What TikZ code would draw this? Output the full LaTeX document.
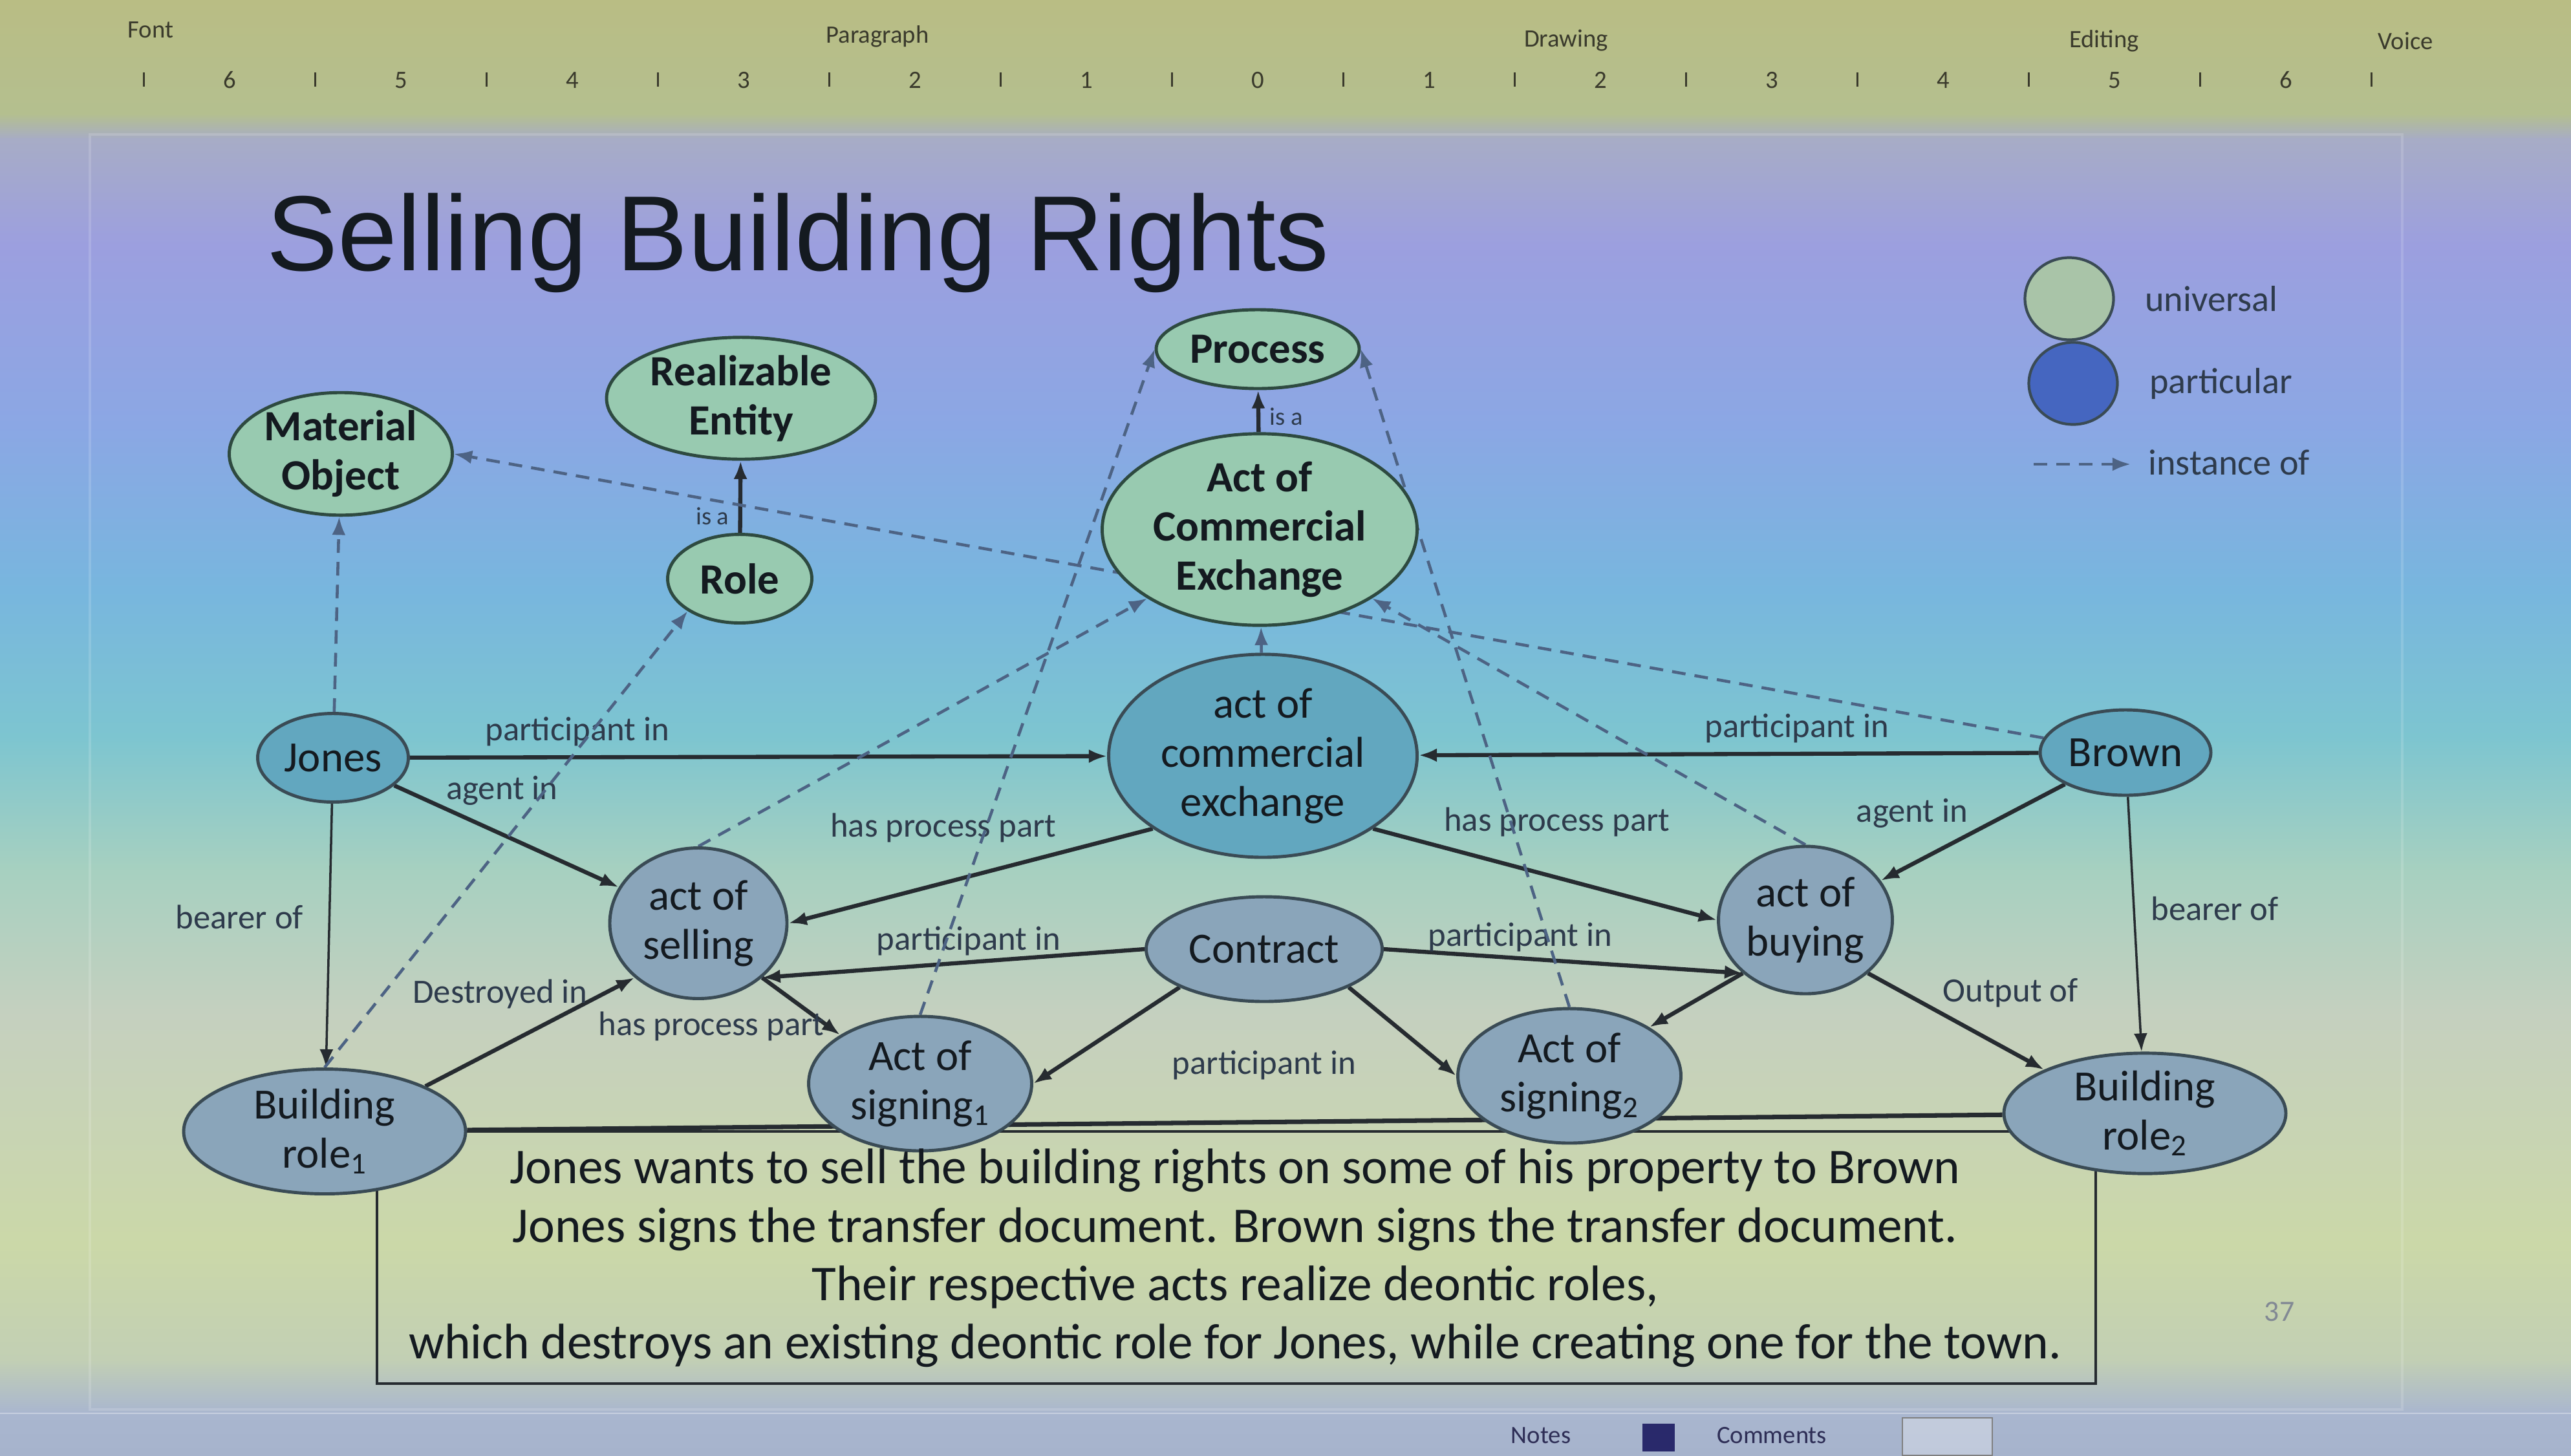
\documentclass[tikz,border=0pt]{standalone}
\usepackage{fontspec}
\setmainfont{Carlito}
\newfontfamily\titlefont{Liberation Sans}
\usepackage{tikz}
\usetikzlibrary{positioning,arrows.meta,shapes.geometric}
\pgfdeclarelayer{backdrop}
\pgfdeclarelayer{links}
\pgfsetlayers{backdrop,links,main}

\definecolor{univfill}{HTML}{98CAB0}
\definecolor{univline}{HTML}{2E4A40}
\definecolor{partup}{HTML}{62A7BF}
\definecolor{partlow}{HTML}{8AA5BA}
\definecolor{partline}{HTML}{3A4B55}
\definecolor{relline}{HTML}{262B30}
\definecolor{instline}{HTML}{4D6384}
\definecolor{lbltext}{HTML}{2E3B4C}
\definecolor{nodetext}{HTML}{141A20}
\definecolor{legpart}{HTML}{4566C0}
\definecolor{leguniv}{HTML}{A9C4A8}
\definecolor{uitext}{HTML}{3A3A2C}
% photo background bands, top to bottom
\definecolor{bgA}{HTML}{B9BD84}
\definecolor{bgB}{HTML}{B4BF8F}
\definecolor{bgC}{HTML}{A7ACC6}
\definecolor{bgD}{HTML}{9C9FDF}
\definecolor{bgE}{HTML}{8BA7E4}
\definecolor{bgF}{HTML}{78B6DE}
\definecolor{bgG}{HTML}{7DC5D0}
\definecolor{bgH}{HTML}{A6D0C0}
\definecolor{bgI}{HTML}{C5D0BF}
\definecolor{bgJ}{HTML}{CBD8A8}
\definecolor{bgK}{HTML}{C2CFB4}
\definecolor{bgL}{HTML}{A9B6CF}
\definecolor{bgM}{HTML}{A6B3CC}

\tikzset{
  univ/.style={ellipse, draw=univline, line width=1.4pt, fill=univfill, inner sep=0pt, align=center,
    font=\fontsize{19}{21.6}\selectfont\bfseries, text=nodetext},
  part/.style={ellipse, draw=partline, line width=1.4pt, fill=partlow, inner sep=0pt, align=center,
    font=\fontsize{19}{21.6}\selectfont, text=nodetext},
  rel/.style={-{Latex[length=8pt,width=6pt]}, line width=1.8pt, draw=relline},
  inst/.style={-{Latex[length=8pt,width=6pt]}, line width=1.3pt, draw=instline, dash pattern=on 6pt off 4pt},
  lbl/.style={font=\fontsize{15}{17}\selectfont, text=lbltext, inner sep=1pt},
  isalbl/.style={font=\fontsize{11}{13}\selectfont, text=lbltext, inner sep=1pt},
  legtext/.style={font=\fontsize{16}{18}\selectfont, text=lbltext, anchor=west},
  uilbl/.style={font=\fontsize{11}{13}\selectfont, text=uitext}
}

\begin{document}
\begin{tikzpicture}
\useasboundingbox (0,0) rectangle (39.76,-22.51);

% photographed background
\begin{pgfonlayer}{backdrop}
\foreach \ya/\yb/\ca/\cb in {0/1.78/bgA/bgB, 1.78/2.16/bgB/bgC, 2.16/3.80/bgC/bgD, 3.80/6.59/bgD/bgE,
    6.59/9.13/bgE/bgF, 9.13/11.41/bgF/bgG, 11.41/13.44/bgG/bgH, 13.44/15.72/bgH/bgI,
    15.72/19.27/bgI/bgJ, 19.27/21.05/bgJ/bgK, 21.05/21.86/bgK/bgL, 21.86/22.51/bgL/bgM}
  \shade[top color=\ca, bottom color=\cb] (0,{-\ya+0.02}) rectangle (39.76,-\yb);
\draw[white, opacity=.15, line width=1pt] (1.39,-2.08) rectangle (37.15,-21.80);
\end{pgfonlayer}

% ruler and ribbon group names
\node[uilbl] (rFont) at (2.33,-0.46) {Font};
\node[uilbl] (rPara) at (13.57,-0.56) {Paragraph};
\node[uilbl] (rDraw) at (24.22,-0.63) {Drawing};
\node[uilbl] (rEdit) at (32.54,-0.63) {Editing};
\node[uilbl] (rVoice) at (37.20,-0.63) {Voice};
\foreach \k/\n in {-6/6,-5/5,-4/4,-3/3,-2/2,-1/1,0/0,1/1,2/2,3/3,4/4,5/5,6/6}
  \node[uilbl] at ({19.45+2.65*\k},-1.24) {\n};
\foreach \k in {-7,...,6}
  \draw[uitext, line width=.8pt] ({20.775+2.65*\k},-1.12) -- ++(0,-0.22);

% title
\node[font=\titlefont\fontsize{47}{56}\selectfont, text=nodetext, anchor=base west] (title) at (4.0,-4.18) {Selling Building Rights};

% legend
\node[ellipse, draw=partline, line width=1.2pt, fill=leguniv, minimum width=1.37cm, minimum height=1.27cm] (legU) at (32.00,-4.62) {};
\node[ellipse, draw=partline, line width=1.2pt, fill=legpart, minimum width=1.37cm, minimum height=1.27cm] (legP) at (32.06,-5.93) {};
\node[legtext] (legUtxt) at (33.05,-4.62) {universal};
\node[legtext] (legPtxt) at (33.12,-5.93) {particular};
\coordinate (legA) at (31.45,-7.18);
\coordinate (legB) at (32.95,-7.18);
\node[legtext] (legItxt) at (33.10,-7.15) {instance of};

% universals
\node[univ, minimum width=3.45cm, minimum height=1.88cm] (matobj) at (5.27,-7.02) {Material\\Object};
\node[univ, minimum width=4.16cm, minimum height=1.83cm] (realent) at (11.46,-6.16) {Realizable\\Entity};
\node[univ, minimum width=2.23cm, minimum height=1.37cm] (role) at (11.44,-8.95) {Role};
\node[univ, minimum width=3.14cm, minimum height=1.22cm] (process) at (19.45,-5.40) {Process};
\node[univ, minimum width=4.87cm, minimum height=2.74cm] (aceU) at (19.48,-8.19) {Act of\\Commercial\\Exchange};

% particulars
\node[part, fill=partup, minimum width=4.77cm, minimum height=3.14cm] (aceP) at (19.53,-11.69) {act of\\commercial\\exchange};
\node[part, fill=partup, minimum width=2.33cm, minimum height=1.37cm] (jones) at (5.15,-11.72) {Jones};
\node[part, fill=partup, minimum width=2.64cm, minimum height=1.32cm] (brown) at (32.87,-11.64) {Brown};
\node[part, minimum width=2.74cm, minimum height=2.33cm] (selling) at (10.80,-14.28) {act of\\selling};
\node[part, minimum width=2.69cm, minimum height=2.28cm] (buying) at (27.92,-14.23) {act of\\buying};
\node[part, minimum width=3.65cm, minimum height=1.62cm] (contract) at (19.55,-14.68) {Contract};
\node[part, minimum width=3.45cm, minimum height=2.08cm] (signA) at (14.23,-16.76) {Act of\\signing\textsubscript{1}};
\node[part, minimum width=3.45cm, minimum height=2.08cm] (signB) at (24.27,-16.64) {Act of\\signing\textsubscript{2}};
\node[part, minimum width=4.36cm, minimum height=1.93cm] (roleA) at (5.02,-17.50) {Building\\role\textsubscript{1}};
\node[part, minimum width=4.36cm, minimum height=1.83cm] (roleB) at (33.17,-17.22) {Building\\role\textsubscript{2}};

% story box
\node[align=center, font=\fontsize{22}{25.7}\selectfont, text=nodetext] (story) at (19.10,-19.46)
  {Jones wants to sell the building rights on some of his property to Brown\\
   Jones signs the transfer document. Brown signs the transfer document.\\
   Their respective acts realize deontic roles,\\
   which destroys an existing deontic role for Jones, while creating one for the town.};
\node[lbl, below=0.69cm of contract] (midlbl) {participant in};
\node[font=\fontsize{13}{15}\selectfont, text=lbltext!60] (pageno) at (35.25,-20.29) {37};

\begin{pgfonlayer}{links}
\draw[relline, line width=1.1pt] (5.83,-17.50) rectangle (32.41,-21.40);
\draw[relline, line width=2pt] (roleA) -- (roleB);

% is-a links
\draw[rel] (role) -- node[isalbl, pos=0.23, left=3pt] {is a} (realent);
\draw[rel] (aceU) -- node[isalbl, pos=0.37, right=3pt] {is a} (process);

% participants and agents
\draw[rel] (jones) -- node[lbl, pos=0.24, above=3pt] {participant in} (aceP);
\draw[rel] (brown) -- node[lbl, pos=0.39, above=3pt] {participant in} (aceP);
\draw[rel] (jones) -- node[lbl, pos=0.48, above=11pt] {agent in} (selling);
\draw[rel] (brown) -- node[lbl, pos=0.83, above=14pt] {agent in} (buying);
\draw[rel] (aceP.south west) -- node[lbl, pos=0.575, above=16pt] {has process part} (selling.east);
\draw[rel] (aceP.south east) -- node[lbl, pos=0.535, above=16pt] {has process part} (buying.west);
\draw[rel, line width=1pt] (jones) -- node[lbl, pos=0.43, left=10pt] {bearer of} (roleA);
\draw[rel, line width=1pt] (brown) -- node[lbl, pos=0.44, right=6pt] {bearer of} (roleB);

% the contract and the signings
\draw[rel] (contract.west) -- node[lbl, pos=0.46, above=1pt] {participant in} (selling.south east);
\draw[rel] (contract.east) -- node[lbl, pos=0.38, above=1pt] {participant in} (buying.south west);
\draw[rel] (roleA.north east) -- node[lbl, pos=0.85, left=5pt] {Destroyed in} (selling.south west);
\draw[rel] (selling.south east) -- node[lbl, pos=0.85, left] {has process part} (signA.north west);
\draw[rel] (contract.south west) -- (signA.east);
\draw[rel] (contract.south east) -- (signB.west);
\draw[rel] (buying.south west) -- (signB.north east);
\draw[rel] (buying.south east) -- node[lbl, pos=0.4, above right] {Output of} (roleB.north west);

% instance of
\draw[inst] (jones) -- (matobj);
\draw[inst] (brown) -- (matobj.east);
\draw[inst] (roleA.north) -- (role.south west);
\draw[inst] (selling.north) -- (aceU.south west);
\draw[inst] (buying.north) -- (aceU.south east);
\draw[inst] (signA.north) -- (process.west);
\draw[inst] (signB.north) -- (process.east);
\draw[inst] (aceP) -- (aceU);
\draw[inst] (legA) -- (legB);
\end{pgfonlayer}

% status bar
\draw[white, opacity=.35, line width=.8pt] (0,-21.86) -- (39.76,-21.86);
\node[uilbl, text=uitext!80!blue] (notes) at (23.83,-22.20) {Notes};
\fill[uitext!70!blue] (25.40,-22.02) rectangle (25.90,-22.45);
\node[uilbl, text=uitext!80!blue] (comments) at (27.40,-22.20) {Comments};
\draw[gray, fill=white, fill opacity=.3] (29.42,-21.93) rectangle (30.81,-22.51);
\end{tikzpicture}
\end{document}
